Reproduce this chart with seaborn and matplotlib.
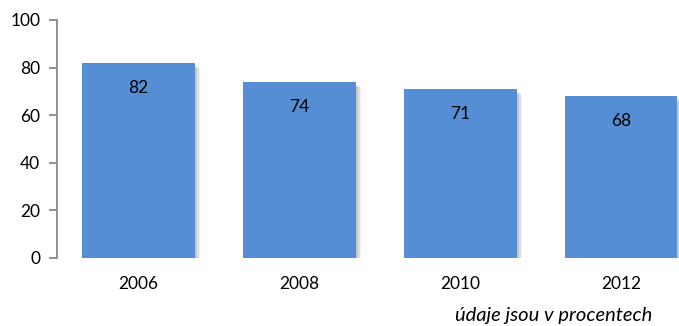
import matplotlib
matplotlib.use("Agg")
import matplotlib.pyplot as plt
import matplotlib.patheffects as pe
import seaborn as sns
import pandas as pd

years = ["2006", "2008", "2010", "2012"]
values = [82, 74, 71, 68]
footnote = "údaje jsou v procentech"

sns.set_theme(style="white")
plt.rcParams["font.family"] = ["Lato", "DejaVu Sans"]

df = pd.DataFrame({"rok": years, "hodnota": values})

fig = plt.figure(figsize=(6.79, 3.26), dpi=100)
ax = fig.add_axes([57 / 679, 1 - 258 / 326, 1 - 57 / 679, 238 / 326])

sns.barplot(data=df, x="rok", y="hodnota", color="#558ED5", saturation=1,
            width=0.7, ax=ax, zorder=3)

# soft drop shadow on the bars
shadow = [pe.SimplePatchShadow(offset=(s, -s), shadow_rgbFace="black", alpha=a)
          for s, a in [(4, 0.06), (3, 0.08), (2, 0.1)]]
for patch in ax.patches:
    patch.set_edgecolor("none")
    patch.set_path_effects(shadow + [pe.Normal()])

for patch, v in zip(ax.patches, values):
    ax.annotate(f"{v}", (patch.get_x() + patch.get_width() / 2, patch.get_height()),
                xytext=(0, -18), textcoords="offset points",
                ha="center", va="center", fontsize=12.5, color="black", zorder=5)

ax.set_ylim(0, 100)
ax.set_yticks([0, 20, 40, 60, 80, 100])
ax.set_xlim(-0.506, 3.36)
ax.set_xlabel("")
ax.set_ylabel("")

for side in ["top", "right", "bottom"]:
    ax.spines[side].set_visible(False)
ax.spines["left"].set_color("#888888")
ax.spines["left"].set_linewidth(1.3)
ax.tick_params(axis="y", which="major", left=True, length=6, width=1.3,
               color="#888888", labelsize=12.5, labelcolor="black", pad=6)
ax.tick_params(axis="x", bottom=False, labelsize=12.5, labelcolor="black", pad=7)
ax.grid(False)

fig.text(652 / 679, 1 - 315 / 326, footnote, ha="right", va="center",
         fontsize=14.5, style="italic", color="black")

fig.savefig("out.png", dpi=100)
